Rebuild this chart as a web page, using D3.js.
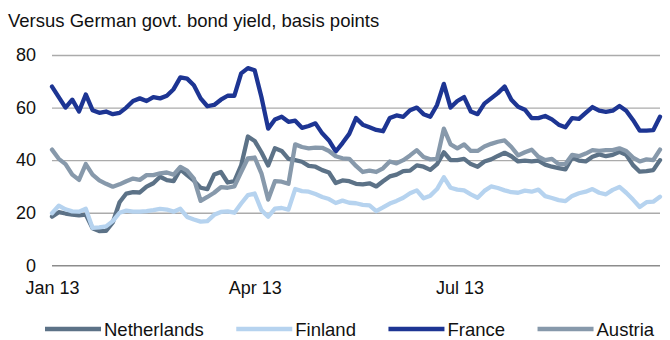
<!DOCTYPE html>
<html>
<head>
  <meta charset="utf-8">
  <title>Spreads versus German govt. bond yield</title>
  <script src="https://cdn.jsdelivr.net/npm/d3@7/dist/d3.min.js"></script>
  <style>
    body { margin: 0; background: #fff; font-family: Arial, "Liberation Sans", sans-serif; }
    svg text { font-family: Arial, "Liberation Sans", sans-serif; fill: #111; }
  </style>
</head>
<body>
  <div id="container"></div>
  <script>
    // sample dates (every 3 days), shared by all series
    const dates = [
      "2013-01-01","2013-01-04","2013-01-07","2013-01-10","2013-01-13","2013-01-16","2013-01-19","2013-01-22","2013-01-25","2013-01-28",
      "2013-01-31","2013-02-03","2013-02-06","2013-02-09","2013-02-12","2013-02-15","2013-02-18","2013-02-21","2013-02-24","2013-02-27",
      "2013-03-02","2013-03-05","2013-03-08","2013-03-11","2013-03-14","2013-03-17","2013-03-20","2013-03-23","2013-03-26","2013-03-29",
      "2013-04-01","2013-04-04","2013-04-07","2013-04-10","2013-04-13","2013-04-16","2013-04-19","2013-04-22","2013-04-25","2013-04-28",
      "2013-05-01","2013-05-04","2013-05-07","2013-05-10","2013-05-13","2013-05-16","2013-05-19","2013-05-22","2013-05-25","2013-05-28",
      "2013-05-31","2013-06-03","2013-06-06","2013-06-09","2013-06-12","2013-06-15","2013-06-18","2013-06-21","2013-06-24","2013-06-27",
      "2013-06-30","2013-07-03","2013-07-06","2013-07-09","2013-07-12","2013-07-15","2013-07-18","2013-07-21","2013-07-24","2013-07-27",
      "2013-07-30","2013-08-02","2013-08-05","2013-08-08","2013-08-11","2013-08-14","2013-08-17","2013-08-20","2013-08-23","2013-08-26",
      "2013-08-29","2013-09-01","2013-09-04","2013-09-07","2013-09-10","2013-09-13","2013-09-16","2013-09-19","2013-09-22","2013-09-25",
      "2013-09-28"
    ];

    const netherlands = [
      18.5, 20.2, 19.7, 19.3, 19, 19.3, 14.1, 13, 13.1, 16.3,
      24, 27.3, 27.8, 27.7, 29.9, 31.2, 33.7, 32.4, 32, 36.5,
      34.3, 32.2, 29.5, 29, 34.5, 35.5, 31.5, 32, 38, 49,
      47.3, 43, 38, 44.5, 43.5, 40.5, 40, 39.4, 37.8, 37.5,
      36.2, 35.3, 31.3, 32.3, 32, 31, 30.8, 31.2, 30, 32,
      33.8, 34.5, 35.8, 36, 38, 37.5, 36.3, 38.5, 43, 40,
      40, 40.5, 38.5, 37.5, 39.5, 40.3, 41.6, 42.8, 41.5, 39.5,
      39.8, 39.5, 39.8, 38.3, 37.5, 37, 36.5, 41, 39.8, 39.5,
      41.3, 42.2, 41.5, 42, 43.2, 42, 38.1, 35.6, 35.8, 36.2,
      40
    ];

    const finland = [
      19.8, 22.7, 21.3, 20.5, 20.4, 21.5, 14.2, 14.4, 14.8, 16.8,
      20, 20.8, 20.4, 20.4, 20.6, 21, 21.5, 21.2, 20.4, 21.5,
      18.4, 17.4, 16.6, 16.8, 19.2, 20.3, 20.5, 20, 23.5, 26.7,
      27.3, 21, 18.5, 21.6, 21.8, 21.2, 29, 28.2, 28, 27.1,
      26, 25.2, 23.7, 24.6, 23.8, 23.6, 23, 22.8, 20.6, 22,
      23.5, 24.5, 25.7, 27.4, 28.5, 25.5, 26.5, 29, 33.5, 29.5,
      28.8, 28.5, 27, 25.7, 28.3, 30, 29.4, 28.5, 27.8, 27.6,
      28.4, 28, 28.8, 26.3, 25.6, 24.8, 24.4, 26.4, 27.4, 28,
      29, 27.6, 27, 28.7, 29.8, 27.6, 25, 22.2, 24, 24.2,
      26.1
    ];

    const france = [
      68, 64, 60, 63, 58.5, 65, 59, 58, 58.5, 57.5,
      58, 60, 62.5, 63.5, 62.5, 64, 63.5, 64.5, 67, 71.5,
      71, 68.5, 63.5, 60.5, 61, 63, 64.5, 64.5, 73, 75,
      74.2, 64, 52, 55.5, 56.5, 54.6, 55, 52.3, 53, 54,
      50.2, 47.5, 43.3, 46.5, 50, 56, 53.5, 52.5, 51.5, 51,
      56, 57, 56.5, 59, 60, 57.5, 56.5, 61, 69, 60,
      62.5, 64, 58.5, 57.5, 61.5, 63.5, 65.5, 68, 63, 60.3,
      59.2, 56, 56, 56.8, 55.5, 53.5, 52.5, 56, 55.7, 58,
      60.2, 58.8, 58.4, 58.8, 60.6, 58.8, 55.3, 51.2, 51.2, 51.4,
      56.5
    ];

    const austria = [
      44, 40.5, 38.5, 34.5, 32.5, 38.5, 34.5, 32.3, 31, 29.9,
      30.8, 32, 33, 32.5, 34.3, 34.3, 35, 35.3, 34.5, 37.4,
      36, 33, 24.5, 26, 27.6, 29.7, 29.5, 30, 35.5, 40.7,
      41, 35, 25, 32, 31.8, 31, 46, 45, 44.5, 44.8,
      44.7, 43.5, 41.5, 40.7, 40.5, 37.8, 35.5, 36, 35.5, 36.9,
      39.5, 38.8, 40, 41.8, 43.8, 41.2, 40.3, 40.5, 52, 46,
      44.5, 46, 43.5, 43.5, 45.2, 46.2, 47, 47.5, 45, 41.8,
      43, 44, 41.3, 40, 40.5, 38.5, 38.5, 42, 41.5, 42.5,
      43.8, 43.5, 43.8, 43.8, 44.5, 43.5, 41, 39.5, 40.3, 40,
      44
    ];

    const seriesNames = ["Netherlands", "Finland", "France", "Austria"];
    const seriesColors = ["#5c7287", "#b6d3ef", "#1d3593", "#8799ab"];

    const yTicks = [0, 20, 40, 60, 80];
    const xTickDates = ["2013-01-01", "2013-04-01", "2013-07-01"];
    const xTickLabels = ["Jan 13", "Apr 13", "Jul 13"];

    const title = "Versus German govt. bond yield, basis points";

    // setup
    const vizWidth = 670;
    const vizHeight = 340;
    const plot = { left: 52, right: 660, top: 55, bottom: 265.3 };
    const parseDate = d3.timeParse("%Y-%m-%d");
    const xDates = dates.map(parseDate);

    const svg = d3.select("#container")
      .append("svg")
      .attr("width", vizWidth)
      .attr("height", vizHeight);

    const xScale = d3.scaleTime()
      .domain([xDates[0], xDates[xDates.length - 1]])
      .range([plot.left, plot.right]);

    const yScale = d3.scaleLinear()
      .domain([0, 80])
      .range([plot.bottom, plot.top]);

    // title
    svg.append("text")
      .attr("x", 8)
      .attr("y", 27)
      .style("font-size", "18.5px")
      .text(title);

    // y axis with gridlines
    const axisY = svg.append("g")
      .attr("transform", `translate(${plot.left},0)`)
      .call(d3.axisLeft(yScale)
        .tickValues(yTicks)
        .tickSize(-(plot.right - plot.left))
        .tickPadding(16));

    axisY.select(".domain").remove();
    axisY.selectAll(".tick line")
      .attr("stroke", d => d === 0 ? "#8c8c8c" : "#ababab")
      .attr("stroke-width", 1.4);
    axisY.selectAll(".tick text")
      .style("font-size", "18px")
      .attr("fill", "#111");

    // x axis labels
    const axisX = svg.append("g")
      .attr("transform", `translate(0,${plot.bottom})`)
      .call(d3.axisBottom(xScale)
        .tickValues(xTickDates.map(parseDate))
        .tickFormat((d, i) => xTickLabels[i])
        .tickSize(0)
        .tickPadding(16));

    axisX.select(".domain").remove();
    axisX.selectAll(".tick text")
      .style("font-size", "18px")
      .attr("fill", "#111");

    // lines
    const seriesData = [netherlands, finland, france, austria];

    const line = d3.line()
      .x((d, i) => xScale(xDates[i]))
      .y(d => yScale(d));

    svg.append("g")
      .selectAll("path")
      .data(seriesData)
      .join("path")
      .attr("d", d => line(d))
      .attr("fill", "none")
      .attr("stroke", (d, i) => seriesColors[i])
      .attr("stroke-width", 4.3)
      .attr("stroke-linejoin", "round")
      .attr("stroke-linecap", "round");

    // legend
    const legend = svg.append("g").attr("transform", "translate(0,329)");
    let lx = 45;
    seriesNames.forEach((name, i) => {
      legend.append("line")
        .attr("x1", lx).attr("x2", lx + 56)
        .attr("y1", 0).attr("y2", 0)
        .attr("stroke", seriesColors[i])
        .attr("stroke-width", 4.5);
      const t = legend.append("text")
        .attr("x", lx + 59)
        .attr("y", 6.5)
        .style("font-size", "18.5px")
        .text(name);
      lx += 59 + t.node().getComputedTextLength() + 32.5;
    });
  </script>
</body>
</html>
